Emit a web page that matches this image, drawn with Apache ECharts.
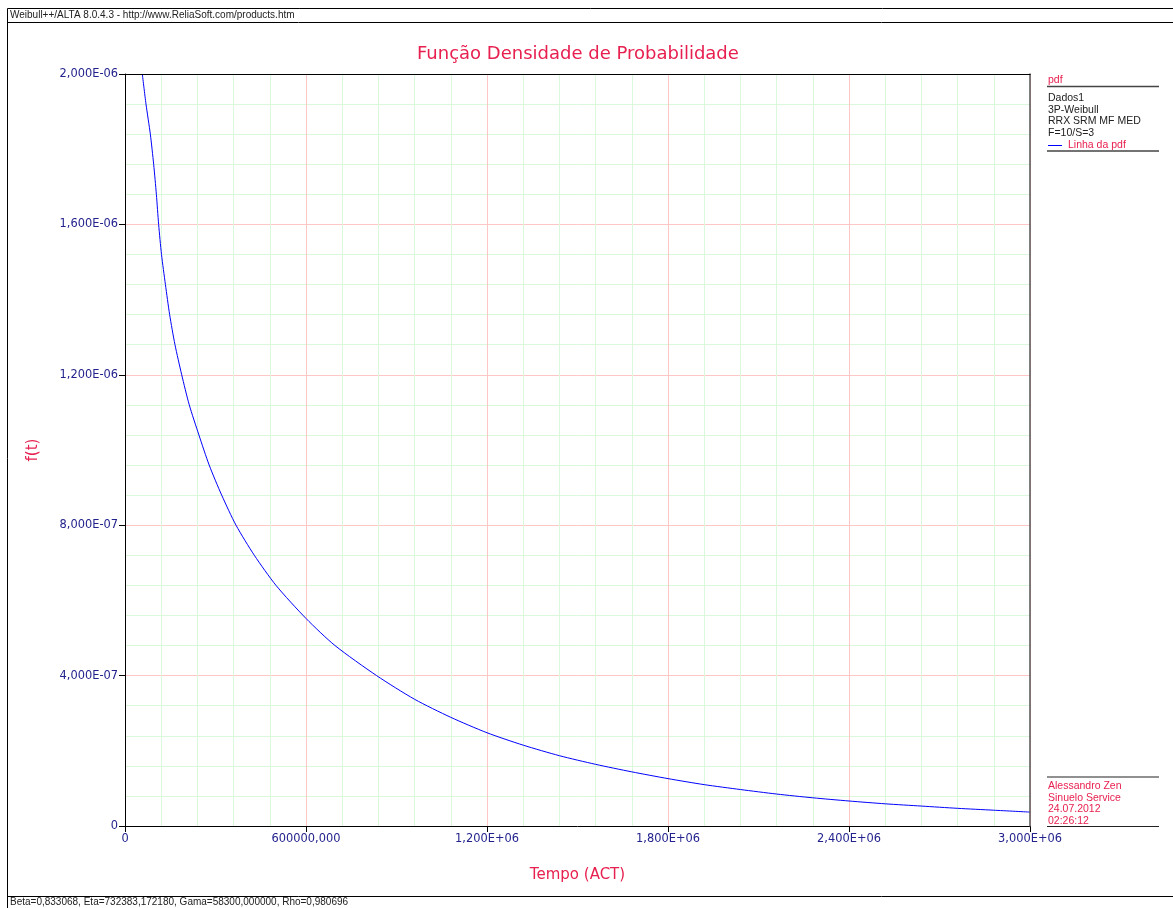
<!DOCTYPE html>
<html>
<head>
<meta charset="utf-8">
<script src="https://cdn.jsdelivr.net/npm/echarts@6/dist/echarts.min.js"></script>
<style>html,body{margin:0;padding:0;background:#fff;}#c{width:1173px;height:908px;}</style>
</head>
<body>
<div id="c"></div>
<script>
// ---- data ----
const tValues = [57400, 69600, 84000, 95000, 104000, 111500, 121000, 134000, 148000, 165700, 188000, 213000, 245000, 279000, 320500, 368000, 428700, 500500, 600000, 696000, 834000, 960000, 1080000, 1200000, 1320000, 1440000, 1560000, 1680000, 1800000, 1920000, 2040000, 2160000, 2280000, 2400000, 2520000, 2640000, 2760000, 2880000, 3000000];
const pdfValues = [2.0e-6, 1.92e-6, 1.84e-6, 1.76e-6, 1.68e-6, 1.60e-6, 1.52e-6, 1.44e-6, 1.36e-6, 1.28e-6, 1.20e-6, 1.12e-6, 1.04e-6, 9.6e-7, 8.8e-7, 8.0e-7, 7.2e-7, 6.4e-7, 5.52e-7, 4.8e-7, 4.0e-7, 3.37e-7, 2.89e-7, 2.48e-7, 2.15e-7, 1.87e-7, 1.64e-7, 1.44e-7, 1.26e-7, 1.10e-7, 9.7e-8, 8.5e-8, 7.5e-8, 6.65e-8, 5.9e-8, 5.3e-8, 4.7e-8, 4.2e-8, 3.7e-8];
const xTickLabels = ['0', '600000,000', '1,200E+06', '1,800E+06', '2,400E+06', '3,000E+06'];
const yTickLabels = ['0', '4,000E-07', '8,000E-07', '1,200E-06', '1,600E-06', '2,000E-06'];
const legendLines = ['Dados1', '3P-Weibull', 'RRX SRM MF MED', 'F=10/S=3'];
const authorLines = ['Alessandro Zen', 'Sinuelo Service', '24.07.2012', '02:26:12'];
const headerText = 'Weibull++/ALTA 8.0.4.3 - http://www.ReliaSoft.com/products.htm';
const footerText = 'Beta=0,833068, Eta=732383,172180, Gama=58300,000000, Rho=0,980696';
const titleText = 'Função Densidade de Probabilidade';
const xName = 'Tempo (ACT)';
const yName = 'f(t)';
const seriesName = 'Linha da pdf';

const RED = '#e8204f';
const NAVY = '#22228e';
const SMALL = "'Liberation Sans', Arial, sans-serif";
const MAIN = "'DejaVu Sans', Verdana, sans-serif";

const seriesData = tValues.map((t, i) => [t, pdfValues[i]]);

const graphics = [];
// outer frame & separators
graphics.push({type:'rect', shape:{x:7.5, y:8.5, width:1170, height:910}, style:{fill:null, stroke:'#000', lineWidth:1}, silent:true});
graphics.push({type:'line', shape:{x1:7, y1:22.5, x2:1173, y2:22.5}, style:{stroke:'#000', lineWidth:1}});
graphics.push({type:'line', shape:{x1:7, y1:896.5, x2:1173, y2:896.5}, style:{stroke:'#000', lineWidth:1}});
graphics.push({type:'text', left:10, top:10, style:{text:headerText, fill:'#222', font:"10px " + SMALL}});
graphics.push({type:'text', left:10, top:897.5, style:{text:footerText, fill:'#222', font:"10px " + SMALL}});
// legend panel
graphics.push({type:'text', left:1048, top:75, style:{text:'pdf', fill:RED, font:"10.5px " + SMALL}});
graphics.push({type:'line', shape:{x1:1047, y1:86.5, x2:1159, y2:86.5}, style:{stroke:'#444', lineWidth:1.5}});
legendLines.forEach((s, i) => {
  graphics.push({type:'text', left:1048, top:93 + i * 11.5, style:{text:s, fill:'#222', font:"10.5px " + SMALL}});
});
graphics.push({type:'line', shape:{x1:1048, y1:145.5, x2:1062, y2:145.5}, style:{stroke:'#0000ff', lineWidth:1}});
graphics.push({type:'text', left:1068, top:139.5, style:{text:seriesName, fill:RED, font:"10.5px " + SMALL}});
graphics.push({type:'line', shape:{x1:1047, y1:151, x2:1159, y2:151}, style:{stroke:'#444', lineWidth:1.5}});
// author panel
graphics.push({type:'line', shape:{x1:1047, y1:777, x2:1159, y2:777}, style:{stroke:'#222', lineWidth:1.2}});
authorLines.forEach((s, i) => {
  graphics.push({type:'text', left:1048, top:781 + i * 11.4, style:{text:s, fill:RED, font:"10.5px " + SMALL}});
});
graphics.push({type:'line', shape:{x1:1047, y1:826.5, x2:1159, y2:826.5}, style:{stroke:'#222', lineWidth:1.2}});

const gridLines = {
  splitLine: {show: true, lineStyle: {color: '#ffc6c6', width: 1}},
  minorTick: {show: false, splitNumber: 5},
  minorSplitLine: {show: true, lineStyle: {color: '#dcf8dc', width: 1}}
};

const chart = echarts.init(document.getElementById('c'), null, {renderer:'canvas'});
chart.setOption({
  animation: false,
  backgroundColor: '#fff',
  title: {
    text: titleText, left: 412, top: 40,
    textStyle: {color: RED, fontSize: 18, fontWeight: 'normal', fontFamily: MAIN}
  },
  grid: {left: 125, right: 143, top: 74, bottom: 82, show: false},
  xAxis: [{
    type: 'value', min: 0, max: 3000000, interval: 600000,
    name: xName, nameLocation: 'middle', nameGap: 42,
    nameTextStyle: {color: RED, fontSize: 15, fontFamily: MAIN},
    axisLine: {show: true, onZero: false, lineStyle: {color: '#000', width: 1}},
    axisTick: {show: true, length: 6, lineStyle: {color: '#000'}},
    axisLabel: {
      color: NAVY, fontSize: 11.4, fontFamily: MAIN, margin: 8,
      formatter: v => xTickLabels[Math.round(v / 600000)]
    },
    ...gridLines
  }, {
    type: 'value', position: 'top', min: 0, max: 3000000, z: 5,
    axisLine: {show: true, onZero: false, lineStyle: {color: '#000', width: 1.2}},
    axisTick: {show: false}, axisLabel: {show: false}, splitLine: {show: false}
  }],
  yAxis: [{
    type: 'value', min: 0, max: 2e-6, interval: 4e-7,
    name: yName, nameLocation: 'middle', nameGap: 84,
    nameTextStyle: {color: RED, fontSize: 15, fontFamily: MAIN},
    axisLine: {show: true, onZero: false, lineStyle: {color: '#000', width: 1}},
    axisTick: {show: true, length: 6, lineStyle: {color: '#000'}},
    axisLabel: {
      color: NAVY, fontSize: 11.4, fontFamily: MAIN, margin: 7,
      formatter: v => yTickLabels[Math.round(v / 4e-7)]
    },
    ...gridLines
  }, {
    type: 'value', position: 'right', min: 0, max: 2e-6, z: 5,
    axisLine: {show: true, onZero: false, lineStyle: {color: '#555', width: 1.5}},
    axisTick: {show: false}, axisLabel: {show: false}, splitLine: {show: false}
  }],
  series: [{
    name: seriesName, type: 'line', data: seriesData,
    xAxisIndex: 0, yAxisIndex: 0,
    showSymbol: false, symbol: 'none', smooth: 0.25,
    lineStyle: {color: '#0000ff', width: 1}, clip: true
  }],
  graphic: graphics
});
</script>
</body>
</html>
